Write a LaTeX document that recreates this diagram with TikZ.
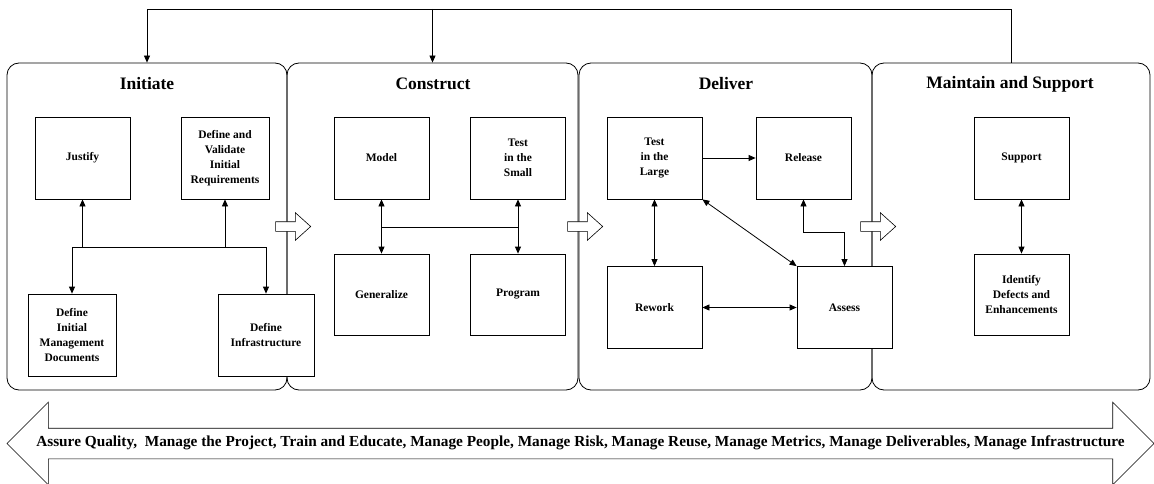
\documentclass[tikz,border=0pt]{standalone}
\usepackage{fontspec}
\setmainfont{Liberation Serif}
\usetikzlibrary{arrows.meta, positioning, shapes.arrows}

\begin{document}
\begin{tikzpicture}[x=1pt, y=-1pt, line width=0.8pt,
      >={Triangle[length=7pt, width=6pt]},
      panel/.style={draw, rounded corners=12pt, minimum height=327pt, inner sep=0pt},
      stage/.style={font=\fontsize{17.5}{21}\selectfont\bfseries},
      task/.style={draw, fill=white, minimum width=95pt, minimum height=82pt,
                   inner sep=2pt, align=center, font=\fontsize{11.5}{15}\selectfont\bfseries},
      flow/.style={single arrow, draw, fill=white, line width=0.6pt, inner sep=0pt,
                   text height=4.5pt, text depth=4.5pt, single arrow head extend=9pt,
                   single arrow tip angle=84, minimum height=35pt},
      band/.style={double arrow, draw, fill=white, line width=0.6pt, inner xsep=0pt,
                   inner ysep=8pt, text height=10pt, text depth=4pt,
                   double arrow head extend=26pt, minimum height=1147pt,
                   font=\fontsize{15.3}{18}\selectfont\bfseries}]
    \useasboundingbox (0,0) rectangle (1154,484);
    % phases
    \node[panel, minimum width=280pt] (initiate)  at (147,226.5)  {};
    \node[panel, minimum width=291pt] (construct) at (432.5,226.5) {};
    \node[panel, minimum width=293pt] (deliver)   at (725.5,226.5) {};
    \node[panel, minimum width=278pt] (maintain)  at (1011,226.5)  {};
    \node[stage] (initiatettl)  at (147,84)  {Initiate};
    \node[stage] (constructttl) at (433,84)  {Construct};
    \node[stage] (deliverttl)   at (726,84)  {Deliver};
    \node[stage] (maintainttl)  at (1010,84) {Maintain and Support};
    \node[flow] (flowa) at (290.5,226.5) {};
    \node[flow] (flowb) at (582.5,226.5) {};
    \node[flow] (flowc) at (875.5,226.5) {};
    % feedback
    \coordinate (fbtop) at (0,9);
    \draw[->] (maintain.north) -- (maintain.north |- fbtop) -| (initiate.north);
    \draw[->] (construct.north |- fbtop) -- (construct.north);
    % initiate
    \node[task] (justify)  at (82.5,158) {Justify};
    \node[task, minimum width=88pt] (defval) at (225,158) {Define and\\Validate\\Initial\\Requirements};
    \node[task, minimum width=88pt] (defmgmt) at (72,335) {Define\\Initial\\Management\\Documents};
    \node[task, minimum width=96pt] (definfra) at (266,335) {Define\\Infrastructure};
    \coordinate (ibus) at (0,247);
    \draw (defmgmt.north |- ibus) -- (definfra.north |- ibus);
    \draw[->] (justify.south |- ibus) -- (justify.south);
    \draw[->] (defval.south |- ibus) -- (defval.south);
    \draw[->] (defmgmt.north |- ibus) -- (defmgmt.north);
    \draw[->] (definfra.north |- ibus) -- (definfra.north);
    % construct
    \node[task] (model)      at (381.5,158)   {Model};
    \node[task] (testsmall)  at (518,158)     {Test\\in the\\Small};
    \node[task, minimum height=81pt] (generalize) at (381.5,294.5) {Generalize};
    \node[task, minimum height=81pt] (program)    at (518,294.5)   {Program};
    \coordinate (cbus) at (0,227);
    \draw (model.south |- cbus) -- (testsmall.south |- cbus);
    \draw[<->] (model) -- (generalize);
    \draw[<->] (testsmall) -- (program);
    % deliver
    \node[task] (testlarge) at (654.5,158)   {Test\\in the\\Large};
    \node[task] (release)   at (803.5,158)   {Release};
    \node[task] (rework)    at (654.5,307.5) {Rework};
    \node[task] (assess)    at (844.5,307.5) {Assess};
    \coordinate (dknee) at (0,232);
    \draw[->] (testlarge) -- (release);
    \draw[<->] (testlarge) -- (rework);
    \draw[<->] (testlarge.south east) -- (assess.north west);
    \draw[<->] (release.south) -- (release.south |- dknee) -| (assess.north);
    \draw[<->] (rework) -- (assess);
    % maintain and support
    \node[task] (support)  at (1021.5,158) {Support};
    \node[task, minimum height=81pt] (identify) at (1021.5,294.5) {Identify\\Defects and\\Enhancements};
    \draw[<->] (support) -- (identify);
    % ongoing activities
    \node[band] (ongoing) at (580.5,443.5) {Assure Quality,~ Manage the Project, Train and Educate, Manage People, Manage Risk, Manage Reuse, Manage Metrics, Manage Deliverables, Manage Infrastructure};
\end{tikzpicture}
\end{document}
